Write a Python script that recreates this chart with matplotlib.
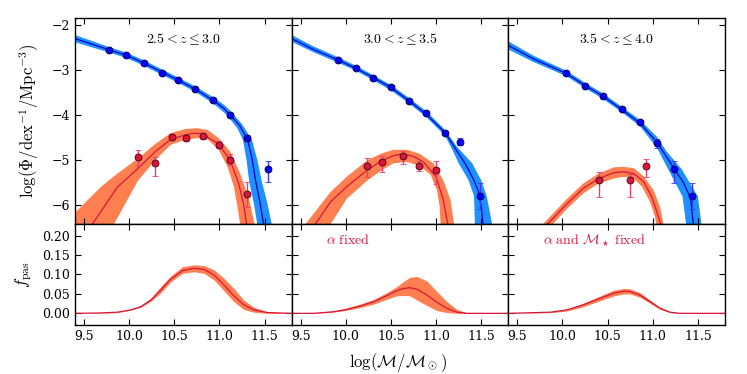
import matplotlib
matplotlib.use("Agg")
import matplotlib.pyplot as plt
import numpy as np
from matplotlib.ticker import FormatStrFormatter, MultipleLocator

plt.rcParams["font.family"] = "serif"
plt.rcParams["font.serif"] = ["DejaVu Serif"]
plt.rcParams["mathtext.fontset"] = "cm"

# ---------------- data ----------------
z_labels = [r"$2.5 < z \leq 3.0$", r"$3.0 < z \leq 3.5$", r"$3.5 < z \leq 4.0$"]
fixed_labels = [None, r"$\alpha\ \mathrm{fixed}$",
                r"$\alpha\ \mathrm{and}\ \mathcal{M}_\star\ \mathrm{fixed}$"]

# all galaxies (blue points)
p1_all_x = [9.78, 9.97, 10.16, 10.36, 10.54, 10.73, 10.93, 11.12, 11.31, 11.54]
p1_all_y = [-2.55, -2.66, -2.85, -3.07, -3.22, -3.43, -3.66, -4.00, -4.51, -5.20]
p1_all_lo = [0.03, 0.03, 0.03, 0.03, 0.03, 0.03, 0.04, 0.05, 0.07, 0.28]
p1_all_hi = [0.03, 0.03, 0.03, 0.03, 0.03, 0.03, 0.04, 0.05, 0.07, 0.18]
p2_all_x = [9.91, 10.11, 10.30, 10.50, 10.70, 10.89, 11.10, 11.27, 11.49]
p2_all_y = [-2.77, -2.96, -3.17, -3.37, -3.69, -3.96, -4.40, -4.59, -5.80]
p2_all_lo = [0.03, 0.03, 0.03, 0.03, 0.03, 0.04, 0.05, 0.08, 0.28]
p2_all_hi = [0.03, 0.03, 0.03, 0.03, 0.03, 0.04, 0.05, 0.08, 0.29]
p3_all_x = [10.04, 10.25, 10.45, 10.66, 10.86, 11.05, 11.23, 11.43]
p3_all_y = [-3.07, -3.35, -3.57, -3.86, -4.15, -4.63, -5.20, -5.80]
p3_all_lo = [0.03, 0.03, 0.03, 0.03, 0.04, 0.10, 0.30, 0.28]
p3_all_hi = [0.03, 0.03, 0.03, 0.03, 0.04, 0.10, 0.18, 0.29]

# passive galaxies (red points)
p1_pas_x = [10.10, 10.29, 10.47, 10.63, 10.82, 11.00, 11.12, 11.30]
p1_pas_y = [-4.92, -5.07, -4.49, -4.51, -4.47, -4.66, -4.99, -5.76]
p1_pas_lo = [0.22, 0.28, 0.07, 0.06, 0.06, 0.08, 0.12, 0.29]
p1_pas_hi = [0.14, 0.14, 0.07, 0.06, 0.06, 0.08, 0.12, 0.28]
p2_pas_x = [10.24, 10.40, 10.63, 10.81, 11.00]
p2_pas_y = [-5.12, -5.04, -4.91, -5.12, -5.21]
p2_pas_lo = [0.25, 0.22, 0.18, 0.13, 0.31]
p2_pas_hi = [0.16, 0.14, 0.12, 0.10, 0.18]
p3_pas_x = [10.40, 10.75, 10.93]
p3_pas_y = [-5.45, -5.45, -5.14]
p3_pas_lo = [0.37, 0.37, 0.23]
p3_pas_hi = [0.19, 0.15, 0.16]

# best-fit mass function of all galaxies and its band
p1_bl_x = [9.40, 9.60, 9.78, 9.97, 10.16, 10.36, 10.54, 10.73, 10.93, 11.05, 11.12,
           11.22, 11.31, 11.36, 11.40, 11.45, 11.49, 11.51]
p1_bl_y = [-2.30, -2.43, -2.55, -2.67, -2.84, -3.04, -3.22, -3.42, -3.67, -3.85, -4.00,
           -4.22, -4.53, -4.95, -5.45, -5.95, -6.43, -6.70]
p1_bu_x = [9.40, 9.60, 9.78, 9.97, 10.16, 10.36, 10.54, 10.73, 10.93, 11.05, 11.12,
           11.25, 11.36, 11.42, 11.47, 11.53, 11.58, 11.60]
p1_bu_y = [-2.22, -2.36, -2.49, -2.61, -2.78, -2.98, -3.16, -3.36, -3.60, -3.77, -3.90,
           -4.20, -4.55, -5.00, -5.48, -5.95, -6.43, -6.70]
p1_bd_x = [9.40, 9.60, 9.78, 9.97, 10.16, 10.36, 10.54, 10.73, 10.93, 11.05, 11.12,
           11.20, 11.26, 11.30, 11.33, 11.38, 11.42, 11.43]
p1_bd_y = [-2.38, -2.50, -2.61, -2.73, -2.90, -3.10, -3.28, -3.48, -3.74, -3.94, -4.09,
           -4.30, -4.55, -5.00, -5.48, -5.95, -6.43, -6.70]

p2_bl_x = [9.40, 9.64, 9.91, 10.11, 10.30, 10.50, 10.70, 10.89, 11.10, 11.20, 11.32,
           11.42, 11.47, 11.50, 11.52, 11.53]
p2_bl_y = [-2.30, -2.54, -2.77, -2.96, -3.16, -3.39, -3.68, -3.98, -4.39, -4.70, -5.07,
           -5.45, -5.70, -6.04, -6.43, -6.70]
p2_bu_x = [9.40, 9.64, 9.91, 10.11, 10.30, 10.50, 10.70, 10.89, 11.10, 11.23, 11.40,
           11.50, 11.56, 11.60, 11.62, 11.63]
p2_bu_y = [-2.22, -2.47, -2.71, -2.90, -3.11, -3.33, -3.62, -3.91, -4.33, -4.70, -5.07,
           -5.45, -5.80, -6.20, -6.43, -6.70]
p2_bd_x = [9.40, 9.64, 9.91, 10.11, 10.30, 10.50, 10.70, 10.89, 11.10, 11.18, 11.25,
           11.36, 11.42, 11.43, 11.44]
p2_bd_y = [-2.37, -2.60, -2.83, -3.01, -3.22, -3.45, -3.74, -4.04, -4.46, -4.77, -5.07,
           -5.45, -5.80, -6.43, -6.70]

p3_bl_x = [9.40, 9.68, 10.04, 10.25, 10.45, 10.66, 10.86, 11.05, 11.24, 11.34, 11.42,
           11.45, 11.46]
p3_bl_y = [-2.45, -2.75, -3.07, -3.34, -3.58, -3.88, -4.18, -4.61, -5.20, -5.50, -5.85,
           -6.43, -6.70]
p3_bu_x = [9.40, 9.68, 10.04, 10.25, 10.45, 10.66, 10.86, 11.05, 11.15, 11.32, 11.50,
           11.54, 11.55]
p3_bu_y = [-2.36, -2.68, -3.01, -3.28, -3.52, -3.82, -4.11, -4.49, -4.80, -5.20, -5.81,
           -6.43, -6.70]
p3_bd_x = [9.40, 9.68, 10.04, 10.25, 10.45, 10.66, 10.86, 11.05, 11.17, 11.33, 11.37,
           11.38]
p3_bd_y = [-2.54, -2.82, -3.13, -3.40, -3.64, -3.94, -4.25, -4.74, -5.20, -5.81, -6.43,
           -6.70]

# best-fit mass function of passive galaxies and its band
p1_rl_x = [9.50, 9.59, 9.87, 10.10, 10.29, 10.46, 10.62, 10.72, 10.81, 10.99, 11.12,
           11.21, 11.27, 11.30, 11.32]
p1_rl_y = [-6.70, -6.43, -5.60, -5.18, -4.81, -4.54, -4.44, -4.40, -4.42, -4.64, -5.01,
           -5.50, -6.00, -6.43, -6.60]
p1_ru_x = [9.38, 9.41, 9.69, 9.87, 10.10, 10.29, 10.46, 10.62, 10.75, 10.87, 10.99,
           11.12, 11.23, 11.33, 11.39, 11.41]
p1_ru_y = [-6.20, -6.15, -5.59, -5.30, -4.96, -4.64, -4.40, -4.31, -4.29, -4.33, -4.51,
           -4.81, -5.30, -5.89, -6.43, -6.70]
p1_rd_x = [9.38, 9.83, 10.10, 10.29, 10.46, 10.62, 10.75, 10.87, 10.99, 11.09, 11.16,
           11.20, 11.23, 11.24]
p1_rd_y = [-6.70, -6.43, -5.45, -5.00, -4.66, -4.55, -4.51, -4.54, -4.77, -5.15, -5.59,
           -6.04, -6.43, -6.70]

p2_rl_x = [9.62, 9.66, 9.83, 10.01, 10.24, 10.40, 10.53, 10.63, 10.75, 10.86, 11.00,
           11.08, 11.13, 11.14]
p2_rl_y = [-6.70, -6.43, -5.93, -5.59, -5.22, -5.01, -4.90, -4.86, -4.92, -5.04, -5.37,
           -5.89, -6.43, -6.70]
p2_ru_x = [9.50, 9.55, 9.83, 10.01, 10.24, 10.40, 10.53, 10.68, 10.82, 10.97, 11.08,
           11.16, 11.20, 11.21]
p2_ru_y = [-6.70, -6.43, -5.71, -5.37, -5.00, -4.85, -4.77, -4.77, -4.86, -5.07, -5.45,
           -5.89, -6.43, -6.70]
p2_rd_x = [9.80, 9.83, 10.01, 10.24, 10.40, 10.53, 10.68, 10.82, 10.94, 11.01, 11.04,
           11.05, 11.06]
p2_rd_y = [-6.70, -6.43, -5.86, -5.45, -5.22, -5.07, -5.04, -5.13, -5.33, -5.67, -6.04,
           -6.43, -6.70]

p3_rl_x = [9.80, 9.83, 10.05, 10.23, 10.40, 10.57, 10.68, 10.79, 10.90, 10.99, 11.04,
           11.09, 11.10]
p3_rl_y = [-6.70, -6.43, -5.97, -5.63, -5.41, -5.28, -5.26, -5.30, -5.48, -5.82, -6.12,
           -6.43, -6.70]
p3_ru_x = [9.74, 9.78, 10.05, 10.23, 10.40, 10.57, 10.68, 10.79, 10.90, 11.01, 11.08,
           11.12, 11.13]
p3_ru_y = [-6.70, -6.43, -5.86, -5.52, -5.30, -5.16, -5.15, -5.18, -5.36, -5.67, -6.04,
           -6.43, -6.70]
p3_rd_x = [9.86, 9.89, 10.05, 10.23, 10.40, 10.57, 10.68, 10.79, 10.88, 10.97, 11.02,
           11.04, 11.05]
p3_rd_y = [-6.70, -6.43, -6.08, -5.74, -5.52, -5.41, -5.37, -5.41, -5.59, -5.93, -6.23,
           -6.43, -6.70]

# passive fraction
p1_f_x = [9.40, 9.68, 9.87, 10.02, 10.13, 10.24, 10.35, 10.46, 10.59, 10.72, 10.83,
          10.94, 11.05, 11.16, 11.27, 11.38, 11.53, 11.80]
p1_f = [0.0, 0.001, 0.003, 0.009, 0.017, 0.034, 0.060, 0.088, 0.110, 0.116, 0.113,
        0.099, 0.073, 0.045, 0.022, 0.009, 0.002, 0.0]
p1_f_hi = [0.0, 0.001, 0.004, 0.010, 0.021, 0.039, 0.069, 0.096, 0.120, 0.125, 0.123,
           0.112, 0.090, 0.064, 0.034, 0.016, 0.004, 0.0]
p1_f_lo = [0.0, 0.0, 0.002, 0.008, 0.016, 0.031, 0.053, 0.081, 0.103, 0.107, 0.103,
           0.086, 0.058, 0.030, 0.010, 0.003, 0.0, 0.0]

p2_f_x = [9.40, 9.64, 9.86, 10.01, 10.16, 10.31, 10.45, 10.56, 10.64, 10.71, 10.79,
          10.90, 11.01, 11.12, 11.23, 11.34, 11.80]
p2_f = [0.0, 0.0, 0.004, 0.010, 0.019, 0.030, 0.045, 0.058, 0.064, 0.066, 0.062,
        0.047, 0.028, 0.013, 0.003, 0.0, 0.0]
p2_f_hi = [0.0, 0.001, 0.006, 0.014, 0.024, 0.036, 0.053, 0.068, 0.082, 0.093, 0.095,
           0.083, 0.056, 0.030, 0.010, 0.002, 0.0]
p2_f_lo = [0.0, 0.0, 0.003, 0.008, 0.015, 0.024, 0.036, 0.045, 0.046, 0.045, 0.034,
           0.020, 0.007, 0.002, 0.0, 0.0, 0.0]

p3_f_x = [9.40, 9.87, 10.05, 10.23, 10.42, 10.57, 10.68, 10.75, 10.86, 10.97, 11.08,
          11.19, 11.30, 11.80]
p3_f = [0.0, 0.003, 0.009, 0.022, 0.039, 0.052, 0.057, 0.056, 0.047, 0.030, 0.013,
        0.003, 0.0, 0.0]
p3_f_hi = [0.0, 0.004, 0.011, 0.026, 0.045, 0.060, 0.064, 0.063, 0.053, 0.034, 0.016,
           0.005, 0.0, 0.0]
p3_f_lo = [0.0, 0.002, 0.006, 0.017, 0.033, 0.045, 0.050, 0.050, 0.041, 0.026, 0.010,
           0.002, 0.0, 0.0]

panels = [
    dict(all=(p1_all_x, p1_all_y, p1_all_lo, p1_all_hi),
         pas=(p1_pas_x, p1_pas_y, p1_pas_lo, p1_pas_hi),
         bl=(p1_bl_x, p1_bl_y), bu=(p1_bu_x, p1_bu_y), bd=(p1_bd_x, p1_bd_y),
         rl=(p1_rl_x, p1_rl_y), ru=(p1_ru_x, p1_ru_y), rd=(p1_rd_x, p1_rd_y),
         f=(p1_f_x, p1_f, p1_f_lo, p1_f_hi)),
    dict(all=(p2_all_x, p2_all_y, p2_all_lo, p2_all_hi),
         pas=(p2_pas_x, p2_pas_y, p2_pas_lo, p2_pas_hi),
         bl=(p2_bl_x, p2_bl_y), bu=(p2_bu_x, p2_bu_y), bd=(p2_bd_x, p2_bd_y),
         rl=(p2_rl_x, p2_rl_y), ru=(p2_ru_x, p2_ru_y), rd=(p2_rd_x, p2_rd_y),
         f=(p2_f_x, p2_f, p2_f_lo, p2_f_hi)),
    dict(all=(p3_all_x, p3_all_y, p3_all_lo, p3_all_hi),
         pas=(p3_pas_x, p3_pas_y, p3_pas_lo, p3_pas_hi),
         bl=(p3_bl_x, p3_bl_y), bu=(p3_bu_x, p3_bu_y), bd=(p3_bd_x, p3_bd_y),
         rl=(p3_rl_x, p3_rl_y), ru=(p3_ru_x, p3_ru_y), rd=(p3_rd_x, p3_rd_y),
         f=(p3_f_x, p3_f, p3_f_lo, p3_f_hi)),
]

BLUE_BAND = "#1e90ff"
BLUE = "#0000ff"
RED_BAND = "#ff7f50"
RED = "#dc143c"


def band(ax, up, dn, color):
    xs = np.r_[up[0], dn[0][::-1]]
    ys = np.r_[up[1], dn[1][::-1]]
    ax.fill(xs, ys, color=color, lw=0, zorder=1)


fig, axes = plt.subplots(
    2, 3, figsize=(7.47, 3.74), dpi=100,
    gridspec_kw=dict(height_ratios=[206, 101], wspace=0, hspace=0,
                     left=0.1004, right=0.9705, top=0.952, bottom=0.131),
)

for i, p in enumerate(panels):
    ax = axes[0, i]
    band(ax, p["bu"], p["bd"], BLUE_BAND)
    band(ax, p["ru"], p["rd"], RED_BAND)
    ax.plot(*p["bl"], color="#0000cd", lw=0.9, zorder=2)
    ax.plot(*p["rl"], color=RED, lw=0.9, zorder=2)
    x, y, lo, hi = p["all"]
    ax.errorbar(x, y, yerr=[lo, hi], fmt="o", ms=5, mfc=BLUE, mec="#000040",
                mew=0.6, ecolor="#3a3aff", elinewidth=1.0, capsize=2.5, zorder=4)
    x, y, lo, hi = p["pas"]
    ax.errorbar(x, y, yerr=[lo, hi], fmt="o", ms=5, mfc=RED, mec="#400010",
                mew=0.6, ecolor="#e8406e", elinewidth=1.0, capsize=2.5, zorder=4)
    ax.text(0.5, 0.9, z_labels[i], transform=ax.transAxes, ha="center",
            va="center", fontsize=10)
    ax.set_xlim(9.4, 11.8)
    ax.set_ylim(-6.42, -1.84)
    ax.yaxis.set_major_locator(MultipleLocator(1))
    ax.xaxis.set_major_locator(MultipleLocator(0.5))
    ax.tick_params(labelbottom=False)

    axb = axes[1, i]
    fx, f, flo, fhi = p["f"]
    axb.fill_between(fx, flo, fhi, color=RED_BAND, lw=0, zorder=1)
    axb.plot(fx, f, color=RED, lw=0.9, zorder=2)
    if fixed_labels[i]:
        axb.text(0.16, 0.84, fixed_labels[i], transform=axb.transAxes, ha="left",
                 va="center", fontsize=10, color=RED)
    axb.set_xlim(9.4, 11.8)
    axb.set_ylim(-0.03, 0.23)
    axb.yaxis.set_major_locator(MultipleLocator(0.05))
    axb.xaxis.set_major_locator(MultipleLocator(0.5))
    axb.xaxis.set_major_formatter(FormatStrFormatter("%.1f"))
    axb.yaxis.set_major_formatter(FormatStrFormatter("%.2f"))
    if i > 0:
        ax.tick_params(labelleft=False)
        axb.tick_params(labelleft=False)

for ax in axes.flat:
    ax.tick_params(direction="in", top=True, right=True, length=4, width=0.8,
                   labelsize=9)
    for s in ax.spines.values():
        s.set_linewidth(1.0)

fig.text(0.039, 0.676, r"$\log(\Phi/\mathrm{dex}^{-1}/\mathrm{Mpc}^{-3})$",
         rotation=90, ha="center", va="center", fontsize=12)
fig.text(0.031, 0.265, r"$f_{\rm pas}$", rotation=90, ha="center", va="center",
         fontsize=12)
fig.text(0.533, 0.032, r"$\log(\mathcal{M}/\mathcal{M}_\odot)$", ha="center",
         va="center", fontsize=12)

fig.savefig("out.png", dpi=100)
